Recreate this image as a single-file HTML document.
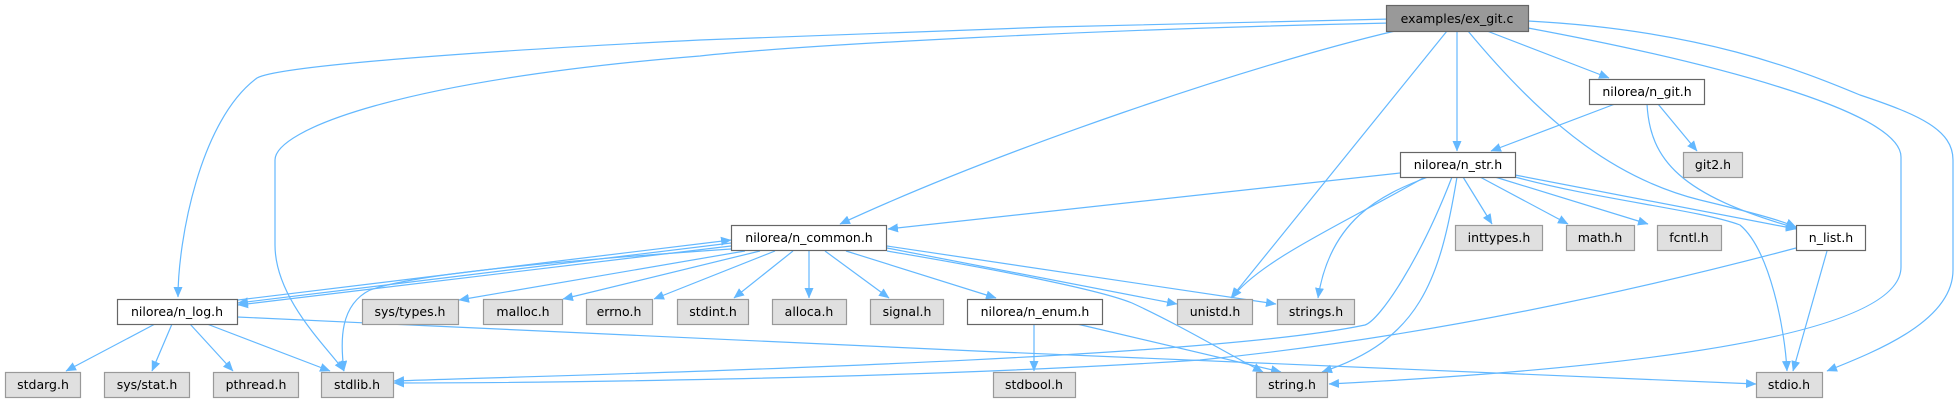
<!DOCTYPE html>
<html><head><meta charset="utf-8"><style>
html,body{margin:0;padding:0;background:#fff;}
svg{display:block;}
text{font-family:"DejaVu Sans","Liberation Sans",sans-serif;font-size:12.5px;fill:#000;text-anchor:middle;}
.e{fill:none;stroke:#63b8ff;stroke-width:1.2;marker-end:url(#a);}
.w{fill:#fff;stroke:#666;stroke-width:1.2;}
.g{fill:#e0e0e0;stroke:#999;stroke-width:1.2;}
.r{fill:#999;stroke:#666;stroke-width:1.2;}
</style></head><body>
<svg width="1959" height="403" viewBox="0 0 1959 403" xmlns="http://www.w3.org/2000/svg">
<defs><marker id="a" markerWidth="11" markerHeight="9" refX="10" refY="4.5" orient="auto" markerUnits="userSpaceOnUse"><path d="M0,0 L10.5,4.5 L0,9 Z" fill="#63b8ff"/></marker></defs>
<!-- ex_git edges -->
<path class="e" d="M1391,19 L1050,27 L700,40 C500,50 280,65 257,78 C200,120 178,240 178,297"/>
<path class="e" d="M1391,23 C1100,29 800,45 700,56 C400,80 275,130 275,160 L275,245 C275,300 330,350 344,371"/>
<path class="e" d="M1395,31 C1250,65 1000,150 840,224"/>
<path class="e" d="M1447,31 L1231,298"/>
<path class="e" d="M1457,31 L1457,151"/>
<path class="e" d="M1468,31 C1550,130 1620,180 1700,200 C1750,212 1780,220 1796,227"/>
<path class="e" d="M1487,31 L1609,78"/>
<path class="e" d="M1528,28 C1700,60 1901,110 1901,157 L1901,267 C1901,340 1600,370 1329,384"/>
<path class="e" d="M1528,21 C1700,30 1800,70 1860,95 C1920,115 1953,130 1953,160 L1953,270 C1953,320 1880,350 1827,371"/>
<!-- n_git -->
<path class="e" d="M1615,104 L1491,151"/>
<path class="e" d="M1658,104 L1697,151"/>
<path class="e" d="M1647,104 C1650,160 1680,195 1796,228"/>
<!-- n_str -->
<path class="e" d="M1400,173 L888,229"/>
<path class="e" d="M1463,177 L1492,224"/>
<path class="e" d="M1480,177 L1568,224"/>
<path class="e" d="M1495,177 L1648,224"/>
<path class="e" d="M1515,175 L1796,229"/>
<path class="e" d="M1515,177 C1600,200 1700,210 1740,225 C1770,250 1785,330 1787,371"/>
<path class="e" d="M1425,177 C1350,220 1260,260 1232,298"/>
<path class="e" d="M1428,177 C1380,195 1330,220 1318,298"/>
<path class="e" d="M1452,177 C1420,260 1380,320 1365,325 C1200,360 600,374 394,381"/>
<path class="e" d="M1457,177 C1440,280 1420,340 1322,372"/>
<!-- n_list -->
<path class="e" d="M1796,248 C1600,300 1400,340 1200,360 C900,380 500,383 394,383"/>
<path class="e" d="M1827,251 L1793,371"/>
<!-- n_common -->
<path class="e" d="M731,243 L238,303"/>
<path class="e" d="M731,246 L238,305"/>
<path class="e" d="M238,300 L731,240"/>
<path class="e" d="M731,249 C600,258 420,272 370,290 C340,305 340,340 344,371"/>
<path class="e" d="M745,251 L459,300"/>
<path class="e" d="M760,251 L563,299"/>
<path class="e" d="M775,251 L654,299"/>
<path class="e" d="M793,251 L734,298"/>
<path class="e" d="M809,251 L809,298"/>
<path class="e" d="M825,251 L889,298"/>
<path class="e" d="M846,251 L996,298"/>
<path class="e" d="M887,248 L1177,304"/>
<path class="e" d="M887,246 L1276,304"/>
<path class="e" d="M887,251 C1000,270 1100,290 1132,303 C1180,325 1230,355 1263,372"/>
<!-- n_log -->
<path class="e" d="M155,324 L66,371"/>
<path class="e" d="M172,324 L152,371"/>
<path class="e" d="M190,324 L233,371"/>
<path class="e" d="M207,324 L330,371"/>
<path class="e" d="M237,317 C700,340 1300,365 1756,384"/>
<!-- n_enum -->
<path class="e" d="M1034,324 L1034,371"/>
<path class="e" d="M1077,324 L1281,372"/>

<!-- nodes -->
<rect class="r" x="1386.5" y="5.5" width="142" height="26"/><text x="1457" y="23">examples/ex_git.c</text>
<rect class="w" x="1589.5" y="79.5" width="115" height="25"/><text x="1647" y="96">nilorea/n_git.h</text>
<rect class="g" x="1683.5" y="152.5" width="59" height="25"/><text x="1713" y="169">git2.h</text>
<rect class="w" x="1400.5" y="152.5" width="115" height="25"/><text x="1458" y="169">nilorea/n_str.h</text>
<rect class="w" x="731.5" y="225.5" width="155" height="25"/><text x="809" y="242">nilorea/n_common.h</text>
<rect class="g" x="1455.5" y="225.5" width="87" height="25"/><text x="1499" y="242">inttypes.h</text>
<rect class="g" x="1566.5" y="225.5" width="68" height="25"/><text x="1600" y="242">math.h</text>
<rect class="g" x="1657.5" y="225.5" width="64" height="25"/><text x="1689" y="242">fcntl.h</text>
<rect class="w" x="1796.5" y="225.5" width="69" height="25"/><text x="1831" y="242">n_list.h</text>
<rect class="w" x="117.5" y="299.5" width="120" height="25"/><text x="177" y="316">nilorea/n_log.h</text>
<rect class="g" x="362.5" y="299.5" width="96" height="25"/><text x="410" y="316">sys/types.h</text>
<rect class="g" x="483.5" y="299.5" width="79" height="25"/><text x="523" y="316">malloc.h</text>
<rect class="g" x="586.5" y="299.5" width="66" height="25"/><text x="619" y="316">errno.h</text>
<rect class="g" x="677.5" y="299.5" width="71" height="25"/><text x="713" y="316">stdint.h</text>
<rect class="g" x="772.5" y="299.5" width="74" height="25"/><text x="809" y="316">alloca.h</text>
<rect class="g" x="870.5" y="299.5" width="73" height="25"/><text x="907" y="316">signal.h</text>
<rect class="w" x="967.5" y="299.5" width="135" height="25"/><text x="1035" y="316">nilorea/n_enum.h</text>
<rect class="g" x="1177.5" y="299.5" width="75" height="25"/><text x="1215" y="316">unistd.h</text>
<rect class="g" x="1277.5" y="299.5" width="77" height="25"/><text x="1316" y="316">strings.h</text>
<rect class="g" x="5.5" y="372.5" width="75" height="25"/><text x="43" y="389">stdarg.h</text>
<rect class="g" x="104.5" y="372.5" width="85" height="25"/><text x="147" y="389">sys/stat.h</text>
<rect class="g" x="213.5" y="372.5" width="85" height="25"/><text x="256" y="389">pthread.h</text>
<rect class="g" x="321.5" y="372.5" width="72" height="25"/><text x="357" y="389">stdlib.h</text>
<rect class="g" x="993.5" y="372.5" width="82" height="25"/><text x="1034" y="389">stdbool.h</text>
<rect class="g" x="1256.5" y="372.5" width="71" height="25"/><text x="1292" y="389">string.h</text>
<rect class="g" x="1756.5" y="372.5" width="66" height="25"/><text x="1789" y="389">stdio.h</text>
</svg>
</body></html>
